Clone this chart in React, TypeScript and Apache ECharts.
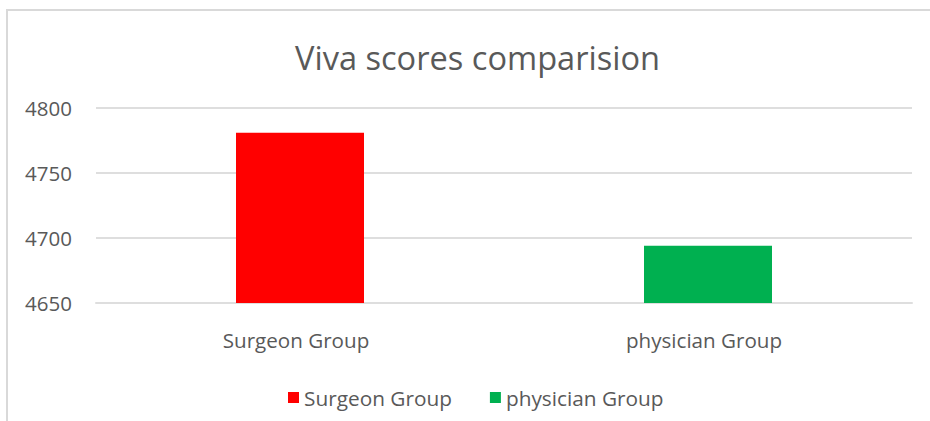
import React, { useEffect, useRef } from "react";
import * as echarts from "echarts";

const categories = ["Surgeon Group", "physician Group"];
const seriesNames = ["Surgeon Group", "physician Group"];
const surgeonValues = [4781, null];
const physicianValues = [null, 4694];
const colors = ["#FF0000", "#00B050"];
const yMin = 4650;
const yMax = 4800;
const yInterval = 50;
const titleText = "Viva scores comparision";

const FONT = "'Open Sans', 'Noto Sans', sans-serif";

export default function App() {
  const ref = useRef<HTMLDivElement>(null);
  useEffect(() => {
    document.body.style.margin = "0";
    if (!ref.current) return;
    const chart = echarts.init(ref.current, undefined, { renderer: "svg" });
    chart.setOption({
      animation: false,
      backgroundColor: "#ffffff",
      title: {
        text: titleText,
        left: 290,
        top: 36,
        textStyle: { color: "#595959", fontFamily: FONT, fontSize: 32.6, fontWeight: "normal" },
      },
      graphic: [
        {
          type: "polyline",
          shape: { points: [[7, 500], [7, 10], [1000, 10]] },
          style: { fill: "none", stroke: "#d9d9d9", lineWidth: 2 },
          silent: true,
        },
      ],
      legend: {
        data: seriesNames,
        bottom: 8,
        left: 283,
        itemWidth: 11,
        itemHeight: 11,
        itemGap: 38,
        icon: "rect",
        textStyle: { color: "#595959", fontFamily: FONT, fontSize: 20.8 },
      },
      grid: { left: 96, right: 18, top: 108, bottom: 118 },
      xAxis: {
        type: "category",
        data: categories,
        axisTick: { show: false },
        axisLine: { lineStyle: { color: "#dedede", width: 2 } },
        axisLabel: {
          color: "#595959",
          fontFamily: FONT,
          fontSize: 20.6,
          margin: 26,
          padding: [0, 8, 0, 0],
        },
      },
      yAxis: {
        type: "value",
        min: yMin,
        max: yMax,
        interval: yInterval,
        axisLine: { show: false },
        axisTick: { show: false },
        axisLabel: {
          color: "#595959",
          fontFamily: FONT,
          fontSize: 20.5,
          margin: 24,
          formatter: (v: number) => String(v),
        },
        splitLine: { lineStyle: { color: "#dedede", width: 2 } },
      },
      series: [
        {
          name: seriesNames[0],
          type: "bar",
          data: surgeonValues,
          barWidth: 128,
          barGap: "-100%",
          itemStyle: { color: colors[0] },
        },
        {
          name: seriesNames[1],
          type: "bar",
          data: physicianValues,
          barWidth: 128,
          barGap: "-100%",
          itemStyle: { color: colors[1] },
        },
      ],
    });
    return () => chart.dispose();
  }, []);
  return (
    <div
      ref={ref}
      style={{ position: "absolute", left: 0, top: 0, width: 930, height: 421 }}
    />
  );
}
